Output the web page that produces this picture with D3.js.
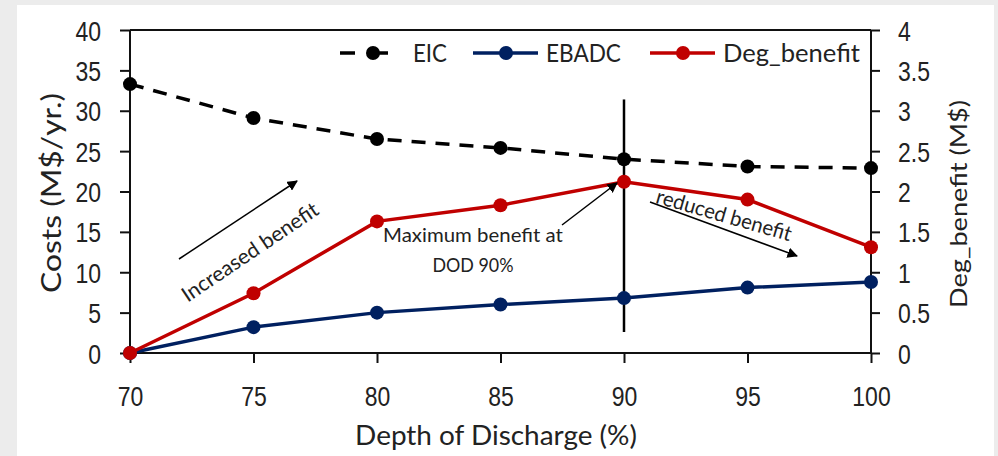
<!DOCTYPE html>
<html>
<head>
<meta charset="utf-8">
<script src="https://cdn.jsdelivr.net/npm/d3@7"></script>
<style>
  body { margin: 0; background: #ececec; }
  svg { display: block; font-family: Lato, "Open Sans", sans-serif; }
</style>
</head>
<body>
<svg id="chart" width="998" height="456"></svg>
<script>
// data
const dod = [70, 75, 80, 85, 90, 95, 100];
const eic = [33.3, 29.1, 26.5, 25.4, 24.0, 23.1, 22.9];
const ebadc = [0, 3.2, 5.0, 6.0, 6.8, 8.1, 8.8];
const degBenefit = [0, 0.74, 1.63, 1.83, 2.12, 1.90, 1.31];

const leftTicks = [0, 5, 10, 15, 20, 25, 30, 35, 40];
const rightTicks = [0, 0.5, 1, 1.5, 2, 2.5, 3, 3.5, 4];
const rightTickLabels = ["0", "0.5", "1", "1.5", "2", "2.5", "3", "3.5", "4"];

// vertical marker at DOD 90 (in left-axis units)
const markerX = 90;
const markerY = [2.6, 31.4];

const svg = d3.select("#chart");
const margin = {top: 30, right: 127, bottom: 103, left: 130};
const width = 998 - margin.left - margin.right;
const height = 456 - margin.top - margin.bottom;
const CAP = 0.7165; // Lato cap height / em

// the scanned figure is stretched vertically, so text gets scaled to fit
function label(parent, o) {
  const t = parent.append("text")
    .attr("text-anchor", o.anchor || "start")
    .style("font-size", o.fs + "px")
    .attr("fill", "#222")
    .text(o.text);
  let sx = 1;
  if (o.width) sx = o.width / t.node().getComputedTextLength();
  const sy = o.cap ? o.cap / (CAP * o.fs) : 1;
  t.attr("transform", "translate(" + o.x + "," + o.y + ") rotate(" + (o.rot || 0) + ") scale(" + sx + "," + sy + ")");
  return t;
}

svg.append("rect").attr("x", 17).attr("y", 5).attr("width", 977).attr("height", 451).attr("fill", "#fff");

const x = d3.scaleLinear().domain([70, 100]).range([0, width]);
const yL = d3.scaleLinear().domain([0, 40]).range([height, 0]);
const yR = d3.scaleLinear().domain([0, 4]).range([height, 0]);

const g = svg.append("g").attr("transform", "translate(" + margin.left + "," + margin.top + ")");

g.append("line").attr("x1", 0).attr("x2", width).attr("y1", 0).attr("y2", 0)
  .attr("stroke", "#111").attr("stroke-width", 2);

const xAxis = g.append("g").attr("transform", "translate(0," + height + ")")
  .call(d3.axisBottom(x).tickValues(dod).tickSize(10));
const yAxisL = g.append("g")
  .call(d3.axisLeft(yL).tickValues(leftTicks).tickSize(10));
const yAxisR = g.append("g").attr("transform", "translate(" + width + ",0)")
  .call(d3.axisRight(yR).tickValues(rightTicks).tickSize(9));

[xAxis, yAxisL, yAxisR].forEach(a => {
  a.select(".domain").attr("stroke", "#111").attr("stroke-width", 2);
  a.selectAll(".tick line").attr("stroke", "#111").attr("stroke-width", 2);
  a.selectAll(".tick text").remove();
});
yAxisL.select(".domain").attr("d", "M0," + height + "V0");
yAxisR.select(".domain").attr("d", "M0," + height + "V0");
xAxis.select(".domain").attr("d", "M0,0H" + width);

// tick labels drawn by hand so they can carry the vertical stretch
xAxis.selectAll(".tick").each(function(d) {
  label(d3.select(this), {x: 0, y: 53, text: String(d), fs: 23, cap: 20, anchor: "middle"});
});
yAxisL.selectAll(".tick").each(function(d) {
  label(d3.select(this), {x: -29, y: 10, text: String(d), fs: 23, cap: 20, anchor: "end"});
});
yAxisR.selectAll(".tick").each(function(d, i) {
  label(d3.select(this), {x: 27, y: 10, text: rightTickLabels[i], fs: 23, cap: 20, anchor: "start"});
});

// axis titles
label(svg, {x: 61, y: 193, rot: -90, text: "Costs (M$/yr.)", fs: 28, cap: 20, width: 200, anchor: "middle"});
label(svg, {x: 967, y: 204, rot: -90, text: "Deg_benefit (M$)", fs: 24, cap: 16, width: 208, anchor: "middle"});
label(svg, {x: 496, y: 445, text: "Depth of Discharge (%)", fs: 26, cap: 20, width: 282, anchor: "middle"});

// vertical marker
g.append("line")
  .attr("x1", x(markerX)).attr("x2", x(markerX))
  .attr("y1", yL(markerY[0])).attr("y2", yL(markerY[1]))
  .attr("stroke", "#000").attr("stroke-width", 2.5);

// series
const series = [
  {name: "EIC", values: eic, y: yL, color: "#000", dash: "14,10", lw: 34},
  {name: "EBADC", values: ebadc, y: yL, color: "#002060", dash: null, lw: 75},
  {name: "Deg_benefit", values: degBenefit, y: yR, color: "#c00000", dash: null, lw: 137}
];

series.forEach(s => {
  const line = d3.line().x((d, i) => x(dod[i])).y(d => s.y(d));
  g.append("path").datum(s.values)
    .attr("d", line).attr("fill", "none")
    .attr("stroke", s.color).attr("stroke-width", 3.5)
    .attr("stroke-dasharray", s.dash);
  g.selectAll(null).data(s.values).enter().append("circle")
    .attr("cx", (d, i) => x(dod[i])).attr("cy", d => s.y(d))
    .attr("r", 7).attr("fill", s.color);
});

// legend
const legendX = [340, 473, 650];
const legend = svg.append("g");
series.forEach((s, i) => {
  const lg = legend.append("g").attr("transform", "translate(" + legendX[i] + ",53)");
  lg.append("line").attr("x1", 0).attr("x2", 65).attr("y1", 0).attr("y2", 0)
    .attr("stroke", s.color).attr("stroke-width", 3.5)
    .attr("stroke-dasharray", s.dash ? "15,18" : null);
  lg.append("circle").attr("cx", 33).attr("cy", 0).attr("r", 7).attr("fill", s.color);
  label(lg, {x: 73, y: 9, text: s.name, fs: 24, cap: 18, width: s.lw});
});

// annotations
svg.append("defs").append("marker")
  .attr("id", "head").attr("viewBox", "0 0 10 10").attr("refX", 9).attr("refY", 5)
  .attr("markerWidth", 7).attr("markerHeight", 7).attr("orient", "auto")
  .append("path").attr("d", "M0,0L10,5L0,10z").attr("fill", "#000");

const arrows = [
  [[179, 259], [297, 181]],
  [[562, 225], [617, 183]],
  [[650, 202], [797, 256]]
];
arrows.forEach(a => {
  svg.append("line").attr("x1", a[0][0]).attr("y1", a[0][1]).attr("x2", a[1][0]).attr("y2", a[1][1])
    .attr("stroke", "#000").attr("stroke-width", 1.5).attr("marker-end", "url(#head)");
});

label(svg, {x: 254, y: 258, rot: -34, text: "Increased benefit", fs: 18, cap: 15, width: 160, anchor: "middle"});
label(svg, {x: 722, y: 222, rot: 16, text: "reduced benefit", fs: 18, cap: 15, width: 140, anchor: "middle"});
label(svg, {x: 473, y: 242, text: "Maximum benefit at", fs: 18, cap: 14, width: 180, anchor: "middle"});
label(svg, {x: 473, y: 272, text: "DOD 90%", fs: 18, cap: 14, width: 81, anchor: "middle"});
</script>
</body>
</html>
